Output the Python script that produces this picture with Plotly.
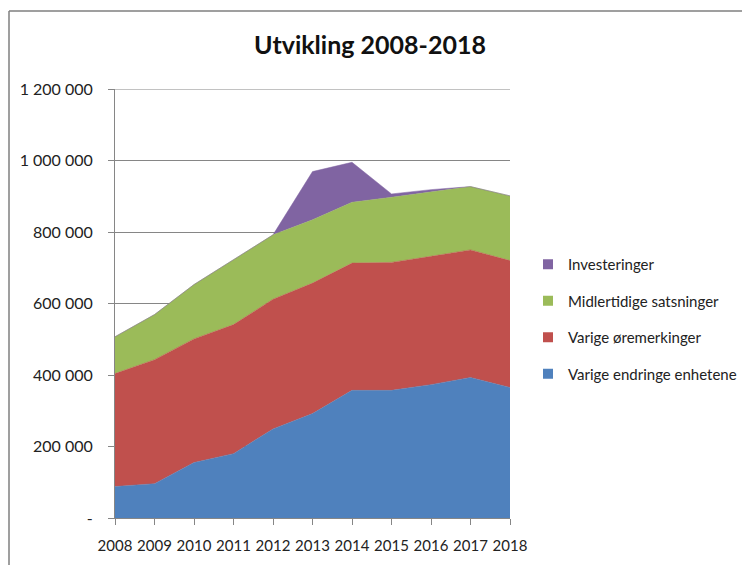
import plotly.graph_objects as go

years = [2008, 2009, 2010, 2011, 2012, 2013, 2014, 2015, 2016, 2017, 2018]
varige_endringer = [88000, 96000, 155000, 180000, 249000, 292000, 357000, 357000, 373000, 393000, 365000]
varige_oremerkinger = [316000, 347000, 346000, 361000, 363000, 365000, 356000, 358000, 359000, 357000, 355000]
midlertidige = [103000, 126000, 152000, 182000, 180000, 177000, 170000, 182000, 180000, 177000, 181000]
investeringer = [0, 0, 0, 0, 0, 135000, 112000, 9500, 6500, 0, 0]

y_tickvals = [0, 200000, 400000, 600000, 800000, 1000000, 1200000]
y_ticktext = ["-", "200 000", "400 000", "600 000", "800 000", "1 000 000", "1 200 000"]

series = [
    ("Varige endringe enhetene", varige_endringer, "#4F81BD", 4),
    ("Varige øremerkinger", varige_oremerkinger, "#C0504D", 3),
    ("Midlertidige satsninger", midlertidige, "#9BBB59", 2),
    ("Investeringer", investeringer, "#8064A2", 1),
]

fig = go.Figure()
for name, vals, col, rank in series:
    fig.add_trace(go.Scatter(
        x=years, y=vals, name=name, stackgroup="one", mode="lines",
        line=dict(width=0.5, color=col), fillcolor=col, showlegend=False,
    ))
# legend entries with square swatches
for name, vals, col, rank in series:
    fig.add_trace(go.Scatter(
        x=[None], y=[None], name=name, mode="markers",
        marker=dict(symbol="square", size=10, color=col),
        legendgroup=name, legendrank=rank, showlegend=True,
    ))

# the page body adds an 8px offset, so the figure is laid out 8px up/left
W, H = 742, 557
L, T, PW, PH = 107, 81, 395, 429
font = "Lato, Carlito, Calibri, sans-serif"
grid_col = "#868686"
fig.update_layout(
    width=W, height=H,
    margin=dict(l=L, r=W - L - PW, t=T, b=H - T - PH, autoexpand=False),
    paper_bgcolor="white", plot_bgcolor="white",
    font=dict(family=font, size=15, color="#222222"),
    title=dict(text="<b>Utvikling 2008-2018</b>", x=362 / W, xanchor="center",
               xref="container", y=1 - 37 / H, yanchor="middle",
               font=dict(size=25, color="#111111", family=font)),
    showlegend=True,
    legend=dict(x=(520 - L) / PW, y=270 / PH, xanchor="left", yanchor="top",
                traceorder="grouped", tracegroupgap=14,
                font=dict(size=15, color="#222222", family=font),
                itemwidth=30, bgcolor="rgba(0,0,0,0)"),
    xaxis=dict(range=[2008, 2018], tickvals=years, ticktext=[str(y) for y in years],
               tickangle=0, showgrid=False, zeroline=False, showline=True,
               linecolor=grid_col, linewidth=1, ticks="outside", ticklen=6,
               tickcolor=grid_col, tickfont=dict(size=15), automargin=False,
               ticklabelstandoff=8),
    yaxis=dict(range=[0, y_tickvals[-1]], tickvals=y_tickvals, ticktext=y_ticktext,
               showgrid=True, gridcolor=grid_col, gridwidth=1, zeroline=False,
               showline=True, linecolor=grid_col, linewidth=1,
               ticks="outside", ticklen=6, tickcolor=grid_col,
               tickfont=dict(size=16), automargin=False, ticklabelstandoff=12),
    shapes=[
        # top gridline at the last y tick
        dict(type="line", xref="paper", yref="y", x0=0, x1=1,
             y0=y_tickvals[-1], y1=y_tickvals[-1],
             line=dict(color=grid_col, width=1)),
        # chart frame (left and top edges)
        dict(type="line", xref="paper", yref="paper", x0=-(L - 1) / PW, x1=1.7,
             y0=(PH + T - 3) / PH, y1=(PH + T - 3) / PH,
             line=dict(color="#7f7f7f", width=1.5)),
        dict(type="line", xref="paper", yref="paper", x0=-(L - 1) / PW, x1=-(L - 1) / PW,
             y0=-0.2, y1=(PH + T - 3) / PH,
             line=dict(color="#7f7f7f", width=1.5)),
    ],
)

fig.write_html("out.html")
